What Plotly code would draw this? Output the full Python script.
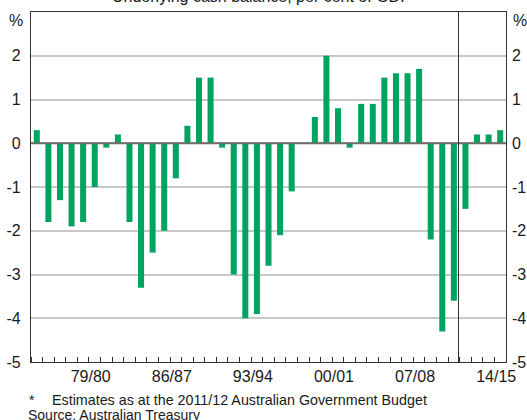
import plotly.graph_objects as go

# Underlying cash balance, per cent of GDP, financial years 1974/75 to 2014/15
years = list(range(1974, 2015))
balance = [0.3, -1.8, -1.3, -1.9, -1.8, -1.0, -0.1, 0.2, -1.8, -3.3,
           -2.5, -2.0, -0.8, 0.4, 1.5, 1.5, -0.1, -3.0, -4.0, -3.9,
           -2.8, -2.1, -1.1, 0.0, 0.6, 2.0, 0.8, -0.1, 0.9, 0.9,
           1.5, 1.6, 1.6, 1.7, -2.2, -4.3, -3.6, -1.5, 0.2, 0.2, 0.3]

label_years = [1979, 1986, 1993, 2000, 2007, 2014]
label_text = ['79/80', '86/87', '93/94', '00/01', '07/08', '14/15']
y_ticks = [-5, -4, -3, -2, -1, 0, 1, 2]
y_text = [str(v) for v in y_ticks]  # plain hyphens, as in the original
estimates_from = 2011

green = '#00A35F'
font = 'Arial, Liberation Sans, sans-serif'

fig = go.Figure()
fig.add_trace(go.Bar(x=years, y=balance, width=0.52, marker_color=green,
                     marker_line_width=0, hoverinfo='skip'))
# invisible copy so the right-hand axis gets drawn
fig.add_trace(go.Scatter(x=years, y=balance, yaxis='y2', mode='markers',
                         marker=dict(opacity=0), hoverinfo='skip'))

fig.update_layout(
    width=527, height=420,
    margin=dict(l=31, r=21, t=12, b=58, autoexpand=False),
    paper_bgcolor='white', plot_bgcolor='white',
    showlegend=False,
    font=dict(family=font, size=16, color='#1a1a1a'),
    xaxis=dict(range=[years[0] - 0.5, years[-1] + 0.5],
               tickvals=[y - 0.35 for y in label_years], ticktext=label_text,
               ticks='', showgrid=False, zeroline=False, automargin=False,
               showline=True, mirror=True, linecolor='#333', linewidth=1.2,
               minor=dict(ticks='inside', ticklen=5, tickcolor='#333', tickwidth=1,
                          tick0=years[0] - 0.5, dtick=1, showgrid=False),
               fixedrange=True),
    yaxis=dict(range=[-5, 3], tickvals=y_ticks, ticktext=y_text, ticks='',
               showgrid=True, gridcolor='#c8c8c8', gridwidth=1.5,
               zeroline=False, showline=True, mirror=True, automargin=False,
               linecolor='#333', linewidth=1.2, ticklabelstandoff=6),
    yaxis2=dict(range=[-5, 3], tickvals=y_ticks, ticktext=y_text, ticks='',
                overlaying='y', side='right', showgrid=False, zeroline=False,
                showline=False, automargin=False, ticklabelstandoff=5),
)

# zero line over the bars
fig.add_shape(type='line', xref='paper', yref='y', x0=0, x1=1, y0=0, y1=0,
              line=dict(color='#6e6e6e', width=2), layer='above')
# divider between actuals and estimates
fig.add_shape(type='line', xref='x', yref='paper', x0=estimates_from - 0.6,
              x1=estimates_from - 0.6, y0=0, y1=1,
              line=dict(color='#333', width=1), layer='above')

fig.add_annotation(text='%', xref='paper', yref='y', x=0, y=2.8,
                   xanchor='right', xshift=-6, showarrow=False)
fig.add_annotation(text='%', xref='paper', yref='y', x=1, y=2.8,
                   xanchor='left', xshift=5, showarrow=False)
fig.add_annotation(text='Underlying cash balance, per cent of GDP',
                   xref='paper', yref='paper', x=0.486, y=1,
                   yanchor='bottom', yshift=5, showarrow=False)
fig.add_annotation(text='*', xref='paper', yref='paper', x=0, y=0,
                   xanchor='left', xshift=-4, yanchor='middle', yshift=-38,
                   showarrow=False, font=dict(size=14))
fig.add_annotation(text='Estimates as at the 2011/12 Australian Government Budget',
                   xref='paper', yref='paper', x=0, y=0,
                   xanchor='left', xshift=19, yanchor='middle', yshift=-38,
                   showarrow=False, font=dict(size=14.3))
fig.add_annotation(text='Source: Australian Treasury',
                   xref='paper', yref='paper', x=0, y=0,
                   xanchor='left', xshift=-5, yanchor='middle', yshift=-53,
                   showarrow=False, font=dict(size=14))

# page has the default 8px body margin; drop it so the figure fills the window
fig.write_html('out.html', config={'displayModeBar': False},
               post_script="document.body.style.margin='0';")
